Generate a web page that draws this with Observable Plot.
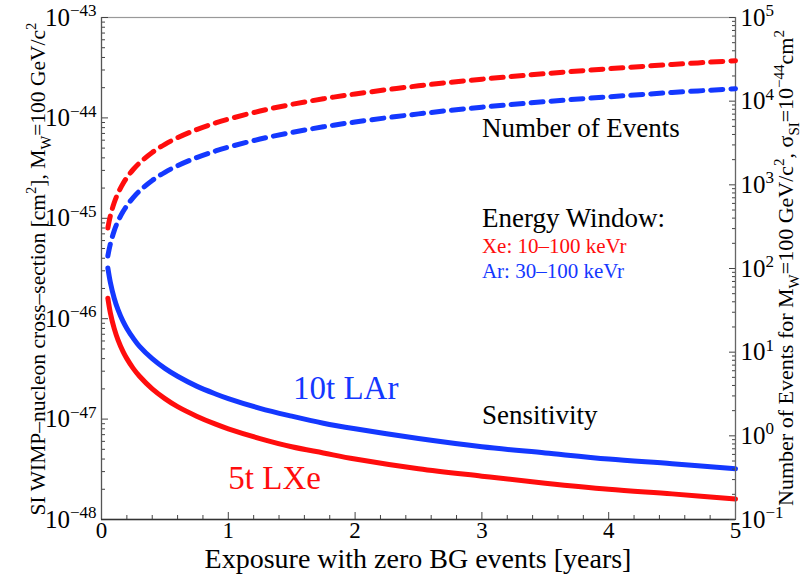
<!DOCTYPE html>
<html>
<head>
<meta charset="utf-8">
<script src="https://cdn.jsdelivr.net/npm/d3@7"></script>
<script src="https://cdn.jsdelivr.net/npm/@observablehq/plot@0.6"></script>
<style>
  body { margin: 0; background: #fff; }
  #chart { position: relative; width: 803px; height: 581px; }
  #chart svg { position: absolute; left: 0; top: 0; overflow: visible; }
  #chart svg text { font-family: 'Liberation Serif', 'Times New Roman', serif; }
</style>
</head>
<body>
<div id="chart"></div>
<script>
// ---- data ----
const years = [0.05, 0.07, 0.1, 0.13, 0.17, 0.2, 0.25, 0.3, 0.4, 0.5, 0.6, 0.75, 0.9, 1, 1.25, 1.5, 1.75, 2, 2.5, 3, 3.5, 4, 4.5, 5];
// sensitivity, in units of 1e-48 cm^2
const xeSensitivity = [160, 114, 80, 61.5, 47, 40, 32, 26.7, 20, 16, 13.3, 10.7, 8.9, 8, 6.4, 5.3, 4.6, 4.0, 3.2, 2.7, 2.3, 2.0, 1.8, 1.6];
const arSensitivity = [320, 229, 160, 123, 94, 80, 64, 53, 40, 32, 26.7, 21.3, 17.8, 16, 12.8, 10.7, 9.1, 8.0, 6.4, 5.3, 4.6, 4.0, 3.6, 3.2];
// number of events for sigma = 1e-44 cm^2
const xeEvents = [305, 427, 610, 793, 1037, 1220, 1525, 1830, 2440, 3050, 3660, 4575, 5490, 6100, 7625, 9150, 10675, 12200, 15250, 18300, 21350, 24400, 27450, 30500];
const arEvents = [141, 197, 282, 367, 479, 564, 705, 846, 1128, 1410, 1692, 2115, 2538, 2820, 3525, 4230, 4935, 5640, 7050, 8460, 9870, 11280, 12690, 14100];

const xTicks = [0, 1, 2, 3, 4, 5];
const xMinorTicks = [0.2, 0.4, 0.6, 0.8, 1.2, 1.4, 1.6, 1.8, 2.2, 2.4, 2.6, 2.8, 3.2, 3.4, 3.6, 3.8, 4.2, 4.4, 4.6, 4.8];
const leftExponents = [-48, -47, -46, -45, -44, -43];
const rightExponents = [-1, 0, 1, 2, 3, 4, 5];

const RED = "#ff0d0d", BLUE = "#1438ff";
const FONT = "Liberation Serif";
const W = 803, H = 581;
const margins = {marginTop: 17, marginRight: 68, marginBottom: 62, marginLeft: 101};

const minors = (exps) => exps.slice(0, -1).flatMap(e => [2,3,4,5,6,7,8,9].map(m => m * Math.pow(10, e)));
const majors = (exps) => exps.map(e => Math.pow(10, e));
const expFmt = d => "10^" + Math.round(Math.log10(d));

const sensRows = years.flatMap((t, i) => [
  {t, v: xeSensitivity[i] * 1e-48, det: "Xe"},
  {t, v: arSensitivity[i] * 1e-48, det: "Ar"}
]);
const eventRows = years.flatMap((t, i) => [
  {t, n: xeEvents[i], det: "Xe"},
  {t, n: arEvents[i], det: "Ar"}
]);

const p1 = Plot.plot({
  width: W, height: H, ...margins,
  style: {fontFamily: FONT, background: "transparent", color: "#000"},
  x: {domain: [0, 5]},
  y: {type: "log", domain: [1e-48, 1e-43]},
  marks: [
    Plot.frame({stroke: "#999", strokeWidth: 1.2}),
    Plot.axisX({ticks: xTicks, tickSize: -7, tickFormat: () => "", label: null, stroke: "#444"}),
    Plot.axisX({ticks: xMinorTicks, tickSize: -4, tickFormat: () => "", label: null, stroke: "#444"}),
    Plot.axisX({ticks: xTicks, tickSize: 0, tickPadding: 2, fontSize: 23, fontFamily: FONT, tickFormat: d => String(d), label: null}),
    Plot.axisY({ticks: majors(leftExponents), tickSize: -7, tickFormat: () => "", label: null, stroke: "#444"}),
    Plot.axisY({ticks: minors(leftExponents), tickSize: -4, tickFormat: () => "", label: null, stroke: "#444"}),
    Plot.axisY({ticks: majors(leftExponents), tickSize: 0, tickPadding: 5, fontSize: 25, fontFamily: FONT, tickFormat: expFmt, label: null}),
    Plot.ruleX([0], {stroke: "#555", strokeWidth: 1.2}),
    Plot.ruleY([1e-48], {stroke: "#333", strokeWidth: 1.5}),
    Plot.line(sensRows, {x: "t", y: "v", z: "det", stroke: d => d.det === "Xe" ? RED : BLUE, strokeWidth: 5, curve: "catmull-rom"}),
    Plot.text(["Number of Events"], {x: 3.0, y: 7.8e-45, text: d => d, textAnchor: "start", fontSize: 27, fontFamily: FONT, fill: "#000"}),
    Plot.text(["Energy Window:"], {x: 3.0, y: 1.0e-45, text: d => d, textAnchor: "start", fontSize: 27, fontFamily: FONT, fill: "#000"}),
    Plot.text(["Xe: 10\u2013100 keVr"], {x: 3.0, y: 5.25e-46, text: d => d, textAnchor: "start", fontSize: 21, fontFamily: FONT, fill: RED}),
    Plot.text(["Ar: 30\u2013100 keVr"], {x: 3.0, y: 2.95e-46, text: d => d, textAnchor: "start", fontSize: 21, fontFamily: FONT, fill: BLUE}),
    Plot.text(["10t LAr"], {x: 1.51, y: 2.0e-47, text: d => d, textAnchor: "start", fontSize: 33, fontFamily: FONT, fill: BLUE}),
    Plot.text(["Sensitivity"], {x: 3.0, y: 1.09e-47, text: d => d, textAnchor: "start", fontSize: 27, fontFamily: FONT, fill: "#000"}),
    Plot.text(["5t LXe"], {x: 1.0, y: 2.57e-48, text: d => d, textAnchor: "start", fontSize: 33, fontFamily: FONT, fill: RED})
  ]
});

const p2 = Plot.plot({
  width: W, height: H, ...margins,
  style: {fontFamily: FONT, background: "transparent", color: "#000"},
  x: {domain: [0, 5], axis: null},
  y: {type: "log", domain: [0.1, 1e5]},
  marks: [
    Plot.axisY({anchor: "right", ticks: majors(rightExponents), tickSize: -7, tickFormat: () => "", label: null, stroke: "#444"}),
    Plot.axisY({anchor: "right", ticks: minors(rightExponents), tickSize: -4, tickFormat: () => "", label: null, stroke: "#444"}),
    Plot.axisY({anchor: "right", ticks: majors(rightExponents), tickSize: 0, tickPadding: 5, fontSize: 25, fontFamily: FONT, tickFormat: expFmt, label: null}),
    Plot.ruleX([5], {stroke: "#666", strokeWidth: 1.2}),
    Plot.line(eventRows, {x: "t", y: "n", z: "det", stroke: d => d.det === "Xe" ? RED : BLUE, strokeWidth: 5, strokeDasharray: "12,8", curve: "catmull-rom"})
  ]
});

const chart = document.getElementById("chart");
chart.appendChild(p1);
chart.appendChild(p2);

// superscript exponents on tick labels
for (const svg of [p1, p2]) {
  d3.select(svg).selectAll("text").each(function () {
    const m = (this.textContent || "").match(/^10\^(-?\d+)$/);
    if (!m) return;
    const s = d3.select(this);
    s.text("10");
    s.append("tspan").attr("dy", "-0.55em").attr("font-size", "0.68em").text(m[1].replace("-", "\u2212"));
  });
}

// rich-text axis titles
function rich(sel, parts, fs) {
  let shift = 0;
  for (const [str, kind] of parts) {
    const target = kind === "sup" ? -0.42 * fs : kind === "sub" ? 0.28 * fs : 0;
    const ts = sel.append("tspan").attr("dy", target - shift).text(str);
    if (kind !== "n") ts.attr("font-size", fs * 0.68);
    shift = target;
  }
}
const s1 = d3.select(p1);
const leftTitle = s1.append("text")
  .attr("transform", "translate(45,269) rotate(-90)")
  .attr("text-anchor", "middle").attr("font-size", 21.5).attr("font-family", FONT).attr("fill", "#000");
rich(leftTitle, [["SI WIMP\u2013nucleon cross\u2013section [cm", "n"], ["2", "sup"], ["], M", "n"], ["W", "sub"], ["=100 GeV/c", "n"], ["2", "sup"]], 21.5);

const rightTitle = s1.append("text")
  .attr("transform", "translate(793,268) rotate(-90)")
  .attr("text-anchor", "middle").attr("font-size", 22).attr("font-family", FONT).attr("fill", "#000");
rich(rightTitle, [["Number of Events for M", "n"], ["W", "sub"], ["=100 GeV/c", "n"], ["2", "sup"], [", \u03c3", "n"], ["SI", "sub"], ["=10", "n"], ["\u221244", "sup"], ["cm", "n"], ["2", "sup"]], 22);

s1.append("text")
  .attr("x", 418).attr("y", 568)
  .attr("text-anchor", "middle").attr("font-size", 28).attr("font-family", FONT).attr("fill", "#000")
  .text("Exposure with zero BG events [years]");
</script>
</body>
</html>
